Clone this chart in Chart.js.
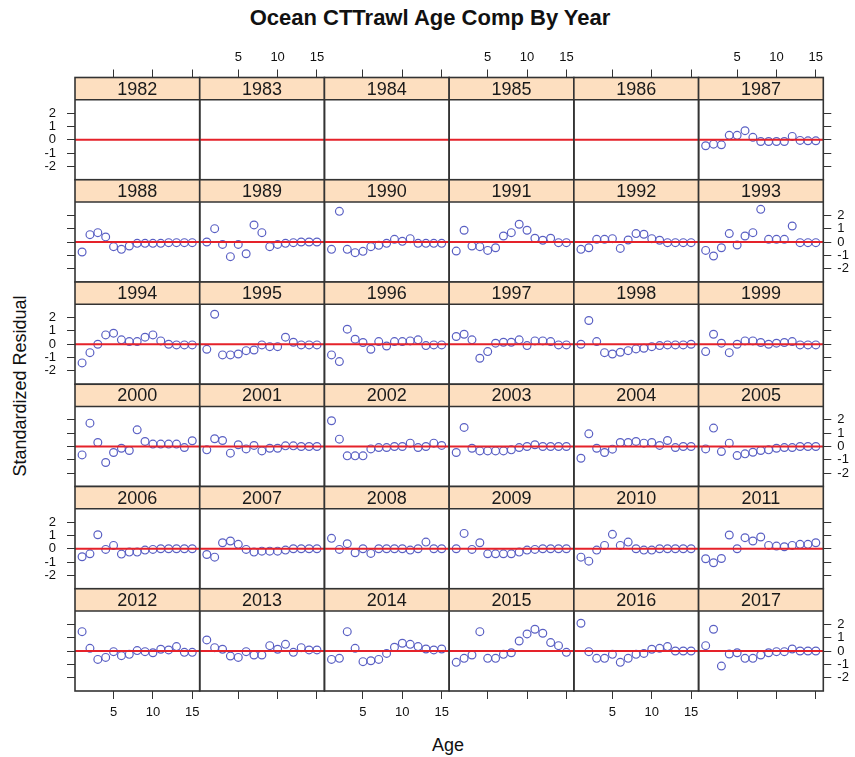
<!DOCTYPE html>
<html><head><meta charset="utf-8">
<script src="https://cdn.jsdelivr.net/npm/chart.js@4/dist/chart.umd.min.js"></script>
<style>
html,body{margin:0;padding:0;background:#fff;overflow:hidden;}
#wrap{position:relative;width:855px;height:757px;overflow:hidden;font-family:'Liberation Sans',Arial,sans-serif;color:#111;}
#wrap canvas{position:absolute;}
.title{position:absolute;left:0;width:860px;top:6px;line-height:24px;text-align:center;font-weight:bold;font-size:22px;}
.xlab{position:absolute;left:348px;width:200px;top:735px;line-height:20px;text-align:center;font-size:18px;}
.ylab{position:absolute;left:20px;top:386px;width:300px;margin-left:-150px;margin-top:-10px;line-height:20px;text-align:center;font-size:18px;transform:rotate(-90deg);}
</style></head>
<body><div id="wrap">
<div class="title">Ocean CTTrawl Age Comp By Year</div>
<div class="xlab">Age</div>
<div class="ylab">Standardized Residual</div>
</div>
<script>
// ---- data ----
const years = [1982,1983,1984,1985,1986,1987,1988,1989,1990,1991,1992,1993,1994,1995,1996,1997,1998,1999,
               2000,2001,2002,2003,2004,2005,2006,2007,2008,2009,2010,2011,2012,2013,2014,2015,2016,2017];
const ages = [1,2,3,4,5,6,7,8,9,10,11,12,13,14,15];
const xTickValues = [5,10,15];
const yTickValues = [-2,-1,0,1,2];

const r1987 = [-0.45,-0.33,-0.38,0.33,0.33,0.68,0.18,-0.13,-0.13,-0.13,-0.13,0.25,-0.05,-0.08,-0.08];
const r1988 = [-0.75,0.55,0.7,0.38,-0.35,-0.55,-0.3,-0.1,-0.1,-0.1,-0.1,-0.05,-0.05,-0.05,-0.05];
const r1989 = [0,1.0,-0.18,-1.1,-0.18,-0.88,1.28,0.7,-0.35,-0.18,-0.1,-0.05,0,0,0];
const r1990 = [-0.55,2.3,-0.55,-0.8,-0.7,-0.35,-0.25,-0.1,0.2,0.05,0.25,-0.1,-0.1,-0.1,-0.1];
const r1991 = [-0.68,0.88,-0.3,-0.35,-0.63,-0.43,0.45,0.7,1.33,0.88,0.28,0.13,0.28,-0.05,-0.05];
const r1992 = [-0.55,-0.43,0.2,0.2,0.25,-0.48,0.15,0.63,0.58,0.25,0.13,-0.05,-0.05,-0.05,-0.05];
const r1993 = [-0.63,-1.05,-0.43,0.63,-0.23,0.45,0.7,2.45,0.2,0.2,0.2,1.2,-0.05,-0.05,-0.05];
const r1994 = [-1.4,-0.63,0,0.7,0.83,0.33,0.2,0.2,0.53,0.7,0.25,0,-0.05,-0.05,-0.05];
const r1995 = [-0.38,2.25,-0.8,-0.8,-0.73,-0.48,-0.43,-0.05,-0.18,-0.18,0.53,0.15,-0.05,-0.05,-0.05];
const r1996 = [-0.8,-1.3,1.13,0.38,0.13,-0.38,0.2,-0.13,0.2,0.2,0.25,0.33,-0.1,-0.05,-0.05];
const r1997 = [0.58,0.75,0.33,-1.05,-0.55,0.08,0.15,0.15,0.33,-0.1,0.25,0.25,0.2,-0.05,-0.05];
const r1998 = [0,1.78,0.2,-0.63,-0.73,-0.6,-0.48,-0.35,-0.3,-0.18,-0.1,-0.05,-0.05,-0.05,0];
const r1999 = [-0.55,0.75,0.08,-0.63,0,0.25,0.25,0.13,0,0.08,0.13,0.2,-0.05,-0.05,-0.05];
const r2000 = [-0.63,1.75,0.3,-1.2,-0.45,-0.13,-0.3,1.25,0.38,0.18,0.18,0.18,0.18,-0.08,0.43];
const r2001 = [-0.25,0.58,0.45,-0.5,0.13,-0.18,0.08,-0.33,-0.13,-0.13,0.05,0.05,0,0,0];
const r2002 = [1.93,0.55,-0.7,-0.7,-0.7,-0.18,-0.08,-0.08,0,0,0.25,-0.08,0,0.25,0.08];
const r2003 = [-0.45,1.43,-0.13,-0.33,-0.33,-0.33,-0.33,-0.25,-0.08,0,0.13,0,0,0,0];
const r2004 = [-0.88,0.95,-0.13,-0.45,-0.2,0.3,0.3,0.38,0.25,0.3,0.08,0.45,-0.08,0,0];
const r2005 = [-0.18,1.38,-0.38,0.25,-0.68,-0.55,-0.43,-0.3,-0.25,-0.13,-0.08,-0.08,0,0,0];
const r2006 = [-0.6,-0.38,1.05,-0.05,0.25,-0.4,-0.25,-0.25,-0.1,-0.05,0,0,0,0,0];
const r2007 = [-0.43,-0.63,0.45,0.58,0.33,-0.05,-0.25,-0.18,-0.18,-0.18,-0.1,0,0,0,0];
const r2008 = [0.78,-0.05,0.38,-0.3,0,-0.35,0,0,0,0,-0.1,0,0.5,0,0];
const r2009 = [0,1.15,-0.05,0.45,-0.38,-0.38,-0.38,-0.38,-0.25,-0.1,-0.05,0,0,0,0];
const r2010 = [-0.63,-0.93,-0.1,0.25,1.08,0.25,0.5,0,-0.1,-0.1,0,0,0,0,0];
const r2011 = [-0.75,-1.05,-0.73,1.03,0,0.83,0.58,0.88,0.25,0.2,0.15,0.25,0.33,0.33,0.45];
const r2012 = [1.45,0.2,-0.63,-0.48,-0.05,-0.35,-0.25,0.03,-0.05,-0.13,0.13,0.08,0.33,-0.1,-0.1];
const r2013 = [0.83,0.25,0.13,-0.38,-0.48,-0.05,-0.3,-0.3,0.4,0.13,0.5,-0.1,0.25,0.08,0.08];
const r2014 = [-0.63,-0.55,1.45,0.2,-0.8,-0.73,-0.63,-0.18,0.28,0.58,0.5,0.33,0.15,0.08,0.15];
const r2015 = [-0.85,-0.55,-0.3,1.45,-0.55,-0.55,-0.25,-0.13,0.75,1.28,1.63,1.33,0.63,0.4,-0.1];
const r2016 = [2.08,-0.05,-0.55,-0.55,-0.25,-0.85,-0.55,-0.25,-0.18,0.13,0.2,0.33,0,0,0];
const r2017 = [0.4,1.63,-1.13,-0.23,-0.13,-0.55,-0.55,-0.3,-0.13,-0.05,-0.05,0.15,0,0,0];

const residualsByYear = [null,null,null,null,null,r1987,r1988,r1989,r1990,r1991,r1992,r1993,
  r1994,r1995,r1996,r1997,r1998,r1999,r2000,r2001,r2002,r2003,r2004,r2005,
  r2006,r2007,r2008,r2009,r2010,r2011,r2012,r2013,r2014,r2015,r2016,r2017];

// ---- layout / style ----
const XMIN = 0.1, XMAX = 15.95, YMIN = -3, YTOP = 3;
const L = 75, R = 823.3, T = 77.5, B = 691;
const NC = 6, NR = 6;
const W = (R - L) / NC, RH = (B - T) / NR, SH = 22.25, PH = RH - SH;
const YMAX = YTOP + SH * (YTOP - YMIN) / PH;
const M = 50, A = 40;
const STRIP_BG = '#fddfc0', BORDER = '#333333', PT = '#5a60c4', RED = '#e5222a';
const FONT = "'Liberation Sans', Arial, sans-serif";

const stripPlugin = {
  id: 'strip',
  beforeDatasetsDraw(chart, args, opts) {
    const {ctx, chartArea: a} = chart;
    const sb = chart.scales.y.getPixelForValue(YTOP);
    ctx.save();
    ctx.fillStyle = STRIP_BG;
    ctx.fillRect(a.left, a.top, a.right - a.left, sb - a.top);
    ctx.fillStyle = '#1a1a1a';
    ctx.font = '18px ' + FONT;
    ctx.textAlign = 'center';
    ctx.textBaseline = 'middle';
    ctx.fillText(opts.label, (a.left + a.right) / 2, (a.top + sb) / 2 + 1);
    ctx.restore();
  },
  afterDraw(chart) {
    const {ctx, chartArea: a} = chart;
    const sb = chart.scales.y.getPixelForValue(YTOP);
    ctx.save();
    ctx.strokeStyle = BORDER;
    ctx.lineWidth = 1.6;
    ctx.strokeRect(a.left, a.top, a.right - a.left, a.bottom - a.top);
    ctx.beginPath();
    ctx.moveTo(a.left, sb); ctx.lineTo(a.right, sb);
    ctx.stroke();
    ctx.restore();
  }
};

const wrap = document.getElementById('wrap');

function axis(kind, show, labelOn) {
  const isX = kind === 'x';
  return {
    type: 'linear',
    display: show,
    min: isX ? XMIN : YMIN,
    max: isX ? XMAX : YMAX,
    afterBuildTicks: s => { s.ticks = (isX ? xTickValues : yTickValues).map(v => ({value: v})); },
    afterFit: s => {
      const size = show ? A : 0;
      if (isX) s.height = size; else s.width = size;
    },
    grid: {drawOnChartArea: false, drawTicks: true, tickLength: 8, color: BORDER, lineWidth: 1},
    border: {display: false},
    ticks: {
      autoSkip: false, maxRotation: 0, minRotation: 0,
      color: '#111', font: {family: FONT, size: 13},
      callback: v => labelOn ? String(v) : ''
    }
  };
}

years.forEach((yr, i) => {
  const r = Math.floor(i / NC), c = i % NC;
  const cl = L + c * W, ct = T + r * RH;
  const cx = Math.floor(cl - M), cy = Math.floor(ct - M);
  const cw = Math.ceil(cl + W + M) - cx, chh = Math.ceil(ct + RH + M) - cy;
  const showL = c === 0, showR = c === NC - 1, showT = r === 0, showB = r === NR - 1;
  const cv = document.createElement('canvas');
  cv.width = cw; cv.height = chh;
  cv.style.left = cx + 'px'; cv.style.top = cy + 'px';
  cv.style.width = cw + 'px'; cv.style.height = chh + 'px';
  wrap.appendChild(cv);

  const vals = residualsByYear[i];
  const pts = vals ? ages.map((a, k) => ({x: a, y: vals[k]})) : [];

  const xB = axis('x', showB, c % 2 === 0); xB.position = 'bottom'; xB.ticks.padding = 6;
  const xT = axis('x', showT, c % 2 === 1); xT.position = 'top'; xT.ticks.padding = 4.5;
  const yL = axis('y', showL, r % 2 === 0); yL.position = 'left'; yL.ticks.padding = 11;
  const yR = axis('y', showR, r % 2 === 1); yR.position = 'right'; yR.ticks.padding = 6;

  new Chart(cv, {
    type: 'scatter',
    data: {
      datasets: [
        {type: 'line', data: [{x: XMIN, y: 0}, {x: XMAX, y: 0}], borderColor: RED, borderWidth: 2,
         pointRadius: 0, xAxisID: 'x', yAxisID: 'y'},
        {type: 'scatter', data: pts, pointRadius: 3.9, pointStyle: 'circle', borderWidth: 1.2,
         borderColor: PT, backgroundColor: 'rgba(0,0,0,0)', xAxisID: 'x', yAxisID: 'y'}
      ]
    },
    options: {
      responsive: false, animation: false, events: [], devicePixelRatio: 1,
      layout: {
        autoPadding: false,
        padding: {
          left: cl - cx - (showL ? A : 0),
          right: (cx + cw) - (cl + W) - (showR ? A : 0),
          top: ct - cy - (showT ? A : 0),
          bottom: (cy + chh) - (ct + RH) - (showB ? A : 0)
        }
      },
      scales: {x: xB, xTop: xT, y: yL, yRight: yR},
      plugins: {legend: {display: false}, tooltip: {enabled: false}, strip: {label: String(yr)}}
    },
    plugins: [stripPlugin]
  });
});
</script>
</body></html>
